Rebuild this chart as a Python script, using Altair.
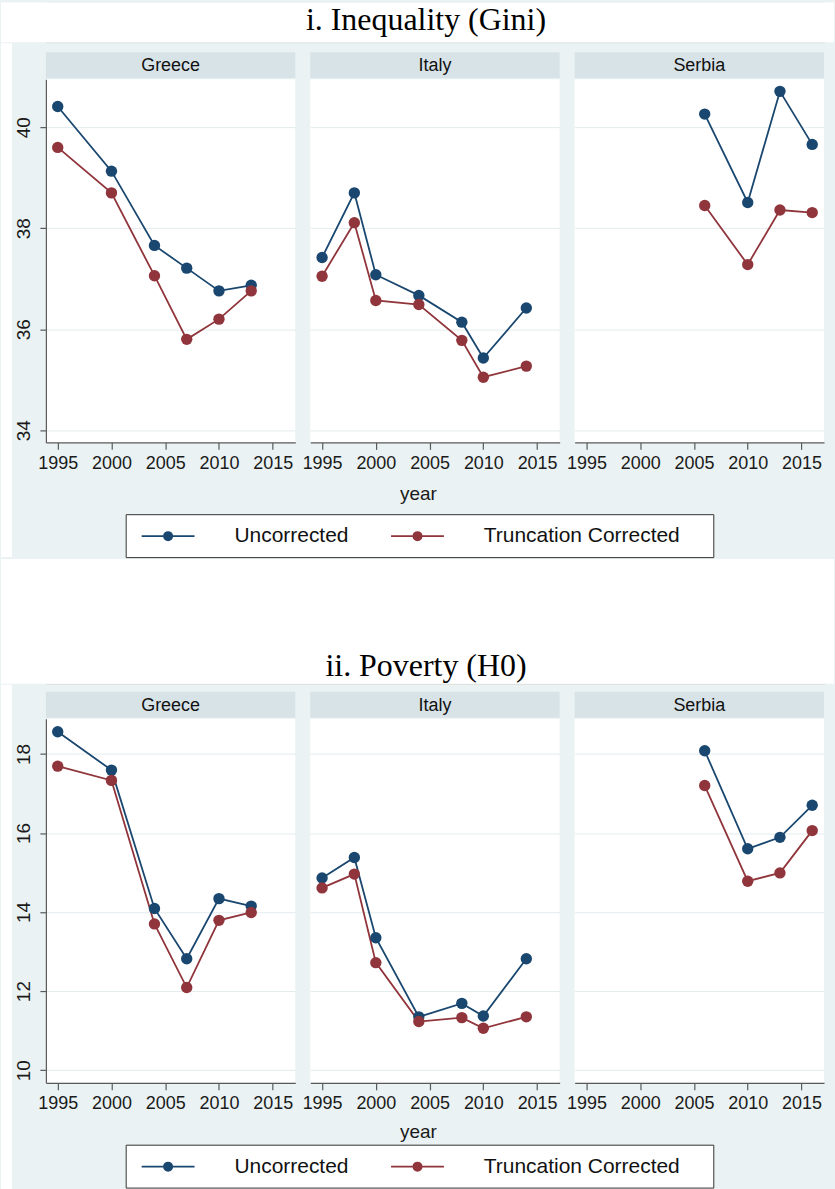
import altair as alt
import pandas as pd

# ---------------- data ----------------
series_names = ["Uncorrected", "Truncation Corrected"]
countries = ["Greece", "Italy", "Serbia"]

greece_years = [1995, 2000, 2004, 2007, 2010, 2013]
italy_years = [1995, 1998, 2000, 2004, 2008, 2010, 2014]
serbia_years = [2006, 2010, 2013, 2016]

gini_greece_unc = [40.41, 39.13, 37.66, 37.21, 36.76, 36.87]
gini_greece_cor = [39.60, 38.70, 37.06, 35.80, 36.20, 36.76]
gini_italy_unc = [37.42, 38.70, 37.08, 36.67, 36.14, 35.43, 36.42]
gini_italy_cor = [37.05, 38.11, 36.57, 36.49, 35.78, 35.05, 35.27]
gini_serbia_unc = [40.26, 38.51, 40.71, 39.66]
gini_serbia_cor = [38.45, 37.28, 38.36, 38.31]

h0_greece_unc = [18.56, 17.59, 14.09, 12.82, 14.34, 14.15]
h0_greece_cor = [17.69, 17.33, 13.70, 12.09, 13.79, 13.99]
h0_italy_unc = [14.86, 15.38, 13.35, 11.35, 11.69, 11.37, 12.82]
h0_italy_cor = [14.61, 14.96, 12.72, 11.23, 11.33, 11.06, 11.35]
h0_serbia_unc = [18.08, 15.60, 15.89, 16.70]
h0_serbia_cor = [17.20, 14.78, 14.99, 16.06]

year_ticks = [1995, 2000, 2005, 2010, 2015]
gini_ticks = [34, 36, 38, 40]
h0_ticks = [10, 12, 14, 16, 18]

title_1 = "i. Inequality (Gini)"
title_2 = "ii. Poverty (H0)"
x_title = "year"

# ---------------- style ----------------
BLUE = "#1A476F"
RED = "#90353B"
BG = "#EAF2F3"
STRIP = "#D8E3E8"
GRID = "#E4ECEE"
AX = "#5a5a5a"
SANS = "Liberation Sans"
SERIF = "Liberation Serif"
PW = 250
SP = 15


def circ(cx, r):
    return f"M{cx - r:.3f},0a{r},{r} 0 1,0 {2 * r:.3f},0a{r},{r} 0 1,0 {-2 * r:.3f},0"


LEG_PATH = "M-0.6,0L4.7,0" + "".join(circ(2.05, r) for r in [0.42, 0.31, 0.2, 0.09])

one = pd.DataFrame({"k": [0]})


def make_df(years, unc, cor):
    rows = []
    for s, vals in zip(series_names, [unc, cor]):
        for y, v in zip(years, vals):
            rows.append({"year": y, "series": s, "value": v})
    return pd.DataFrame(rows)


def rect(x0, x1, y0, y1, color):
    return alt.Chart(one).mark_rect(color=color).encode(
        x=alt.value(x0), x2=alt.value(x1), y=alt.value(y0), y2=alt.value(y1)
    )


def panel(df, country, ydomain, yticks, height, first, middle, legend_y, strip, title_y):
    cscale = alt.Scale(domain=series_names, range=[BLUE, RED])
    xaxis_kw = dict(values=year_ticks, format="d", tickSize=7, labelPadding=5,
                    labelFontSize=18, labelFont=SANS, labelColor="#1a1a1a",
                    grid=False, domainColor=AX, tickColor=AX, domainWidth=1.2,
                    tickWidth=1.2, labelFlush=False, labelOverlap=False)
    xenc_kw = {}
    if middle:
        xaxis_kw.update(titleX=108, titleY=title_y, titleFontSize=19, titleFont=SANS,
                        titleFontWeight="normal", titleBaseline="alphabetic",
                        titleAlign="center", titleColor="#1a1a1a")
        xenc_kw["title"] = x_title
    else:
        xenc_kw["title"] = None
    x = alt.X("year:Q", scale=alt.Scale(domain=[1993.9, 2017.1], nice=False, zero=False),
              axis=alt.Axis(**xaxis_kw), **xenc_kw)
    if first:
        yaxis = alt.Axis(values=yticks, tickSize=6, labelPadding=10, labelAngle=270,
                         labelAlign="center", labelBaseline="alphabetic",
                         labelFontSize=19, labelFont=SANS, labelColor="#1a1a1a",
                         grid=True, gridColor=GRID, domainColor=AX, tickColor=AX,
                         domainWidth=1.2, tickWidth=1.2, labelFlush=False)
    else:
        yaxis = alt.Axis(values=yticks, labels=False, ticks=False, domain=False,
                         grid=True, gridColor=GRID)
    y = alt.Y("value:Q", scale=alt.Scale(domain=ydomain, nice=False, zero=False),
              axis=yaxis, title=None)

    leg = alt.Legend(orient="none", legendX=80, legendY=legend_y, direction="horizontal",
                     title=".", titleColor="white", titleFontSize=8, titleOrient="right",
                     titlePadding=20,
                     symbolType=LEG_PATH, symbolSize=400, symbolStrokeWidth=1.6,
                     labelFontSize=21, labelFont=SANS, labelColor="#111111",
                     labelOffset=76, columnPadding=37, padding=11, labelLimit=400,
                     fillColor="white", strokeColor="#333333")

    base = alt.Chart(df)
    lines = base.mark_line(strokeWidth=1.8).encode(
        x=x, y=y, color=alt.Color("series:N", scale=cscale, legend=leg),
    )
    pts = base.mark_circle(size=130, opacity=1).encode(
        x=x, y=y,
        fill=alt.Fill("series:N", scale=alt.Scale(domain=series_names, range=[BLUE, RED]),
                      legend=None),
    )
    hdr = rect(0, PW, -27, -1, STRIP)
    hdr_txt = alt.Chart(pd.DataFrame({"c": [country]})).mark_text(
        font=SANS, fontSize=18, color="#111111", baseline="middle", align="center"
    ).encode(text="c:N", x=alt.value(PW / 2), y=alt.value(-13))
    layers = [hdr, hdr_txt, lines, pts]
    if first:
        layers = [rect(-45, -34, strip[0], strip[1], "white")] + layers
    return alt.layer(*layers).properties(
        width=PW, height=height, view=alt.ViewBackground(fill="white", strokeWidth=0)
    )


def row(dfs, ydomain, yticks, height, legend_y, strip, title_y):
    panels = [
        panel(d, c, ydomain, yticks, height, i == 0, i == 1, legend_y, strip, title_y)
        for i, (d, c) in enumerate(zip(dfs, countries))
    ]
    return alt.HConcatChart(hconcat=panels, spacing=SP, bounds="flush")


gini_dfs = [
    make_df(greece_years, gini_greece_unc, gini_greece_cor),
    make_df(italy_years, gini_italy_unc, gini_italy_cor),
    make_df(serbia_years, gini_serbia_unc, gini_serbia_cor),
]
h0_dfs = [
    make_df(greece_years, h0_greece_unc, h0_greece_cor),
    make_df(italy_years, h0_italy_unc, h0_italy_cor),
    make_df(serbia_years, h0_serbia_unc, h0_serbia_cor),
]

row1 = row(gini_dfs, [33.76, 40.95], gini_ticks, 364, 436, (-36, 479), 57)
row2 = row(h0_dfs, [9.68, 18.89], h0_ticks, 365, 427, (-34, 480), 55)

TOTAL_W = 3 * PW + 2 * SP


def title_text(t, ypos):
    return alt.Chart(pd.DataFrame({"t": [t]})).mark_text(
        font=SERIF, fontSize=32, color="#000000", align="center", baseline="alphabetic"
    ).encode(text="t:N", x=alt.value(381), y=alt.value(ypos))


title_chart = alt.layer(
    rect(-45, 790, 0, 40, "white"),
    title_text(title_1, 28),
).properties(width=TOTAL_W, height=40)

spacer = alt.layer(
    rect(-45, 790, 0, 125, "white"),
    title_text(title_2, 117),
).properties(width=TOTAL_W, height=125)

chart = alt.VConcatChart(
    vconcat=[title_chart, row1, spacer, row2], spacing=0
).resolve_scale(color="independent", fill="independent").properties(
    padding=0, background=BG
).configure_view(strokeWidth=0).configure(font=SANS)

chart.save("out.html", embed_options={"renderer": "svg", "actions": False})
